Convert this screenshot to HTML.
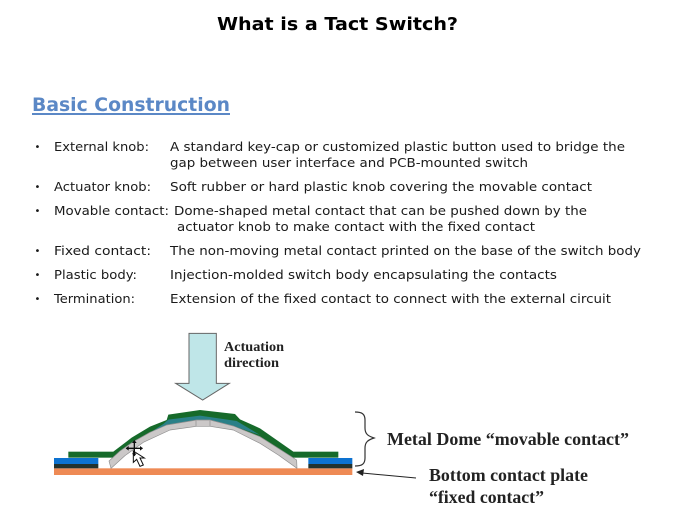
<!DOCTYPE html>
<html>
<head>
<meta charset="utf-8">
<style>
html,body{margin:0;padding:0;background:#fff;width:674px;height:506px;overflow:hidden}
svg{display:block}
.t{font-family:"DejaVu Sans",sans-serif;font-size:12.3px;fill:#1a1a1a}
.b{font-family:"DejaVu Sans",sans-serif;font-size:10px;fill:#1a1a1a}
.s{font-family:"Liberation Serif",serif;font-weight:bold;fill:#222}
</style>
</head>
<body>
<svg width="674" height="506" viewBox="0 0 674 506" xmlns="http://www.w3.org/2000/svg">
<defs><filter id="soft" x="-5%" y="-5%" width="110%" height="110%"><feGaussianBlur stdDeviation="0.35"/></filter></defs>
<text x="217" y="30" font-family="'DejaVu Sans',sans-serif" font-weight="bold" font-size="18" fill="#000" textLength="241" lengthAdjust="spacingAndGlyphs">What is a Tact Switch?</text>
<text x="32" y="111" font-family="'DejaVu Sans',sans-serif" font-weight="bold" font-size="19" fill="#5b88c6" textLength="198" lengthAdjust="spacingAndGlyphs">Basic Construction</text>
<rect x="32" y="113" width="198" height="2" fill="#5b88c6"/>

<g>
<text class="b" x="34.5" y="150">•</text><text class="b" x="34.5" y="190">•</text><text class="b" x="34.5" y="214">•</text><text class="b" x="34.5" y="254">•</text><text class="b" x="34.5" y="278">•</text><text class="b" x="34.5" y="302">•</text>
<text class="t" x="54" y="151" textLength="95" lengthAdjust="spacingAndGlyphs">External knob:</text>
<text class="t" x="170" y="151" textLength="455" lengthAdjust="spacingAndGlyphs">A standard key-cap or customized plastic button used to bridge the</text>
<text class="t" x="170" y="167" textLength="358" lengthAdjust="spacingAndGlyphs">gap between user interface and PCB-mounted switch</text>
<text class="t" x="54" y="191" textLength="97" lengthAdjust="spacingAndGlyphs">Actuator knob:</text>
<text class="t" x="170" y="191" textLength="422" lengthAdjust="spacingAndGlyphs">Soft rubber or hard plastic knob covering the movable contact</text>
<text class="t" x="54" y="215" textLength="115" lengthAdjust="spacingAndGlyphs">Movable contact:</text>
<text class="t" x="174" y="215" textLength="413" lengthAdjust="spacingAndGlyphs">Dome-shaped metal contact that can be pushed down by the</text>
<text class="t" x="177" y="231" textLength="358" lengthAdjust="spacingAndGlyphs">actuator knob to make contact with the fixed contact</text>
<text class="t" x="54" y="255" textLength="97" lengthAdjust="spacingAndGlyphs">Fixed contact:</text>
<text class="t" x="170" y="255" textLength="471" lengthAdjust="spacingAndGlyphs">The non-moving metal contact printed on the base of the switch body</text>
<text class="t" x="54" y="279" textLength="83" lengthAdjust="spacingAndGlyphs">Plastic body:</text>
<text class="t" x="170" y="279" textLength="387" lengthAdjust="spacingAndGlyphs">Injection-molded switch body encapsulating the contacts</text>
<text class="t" x="54" y="303" textLength="81" lengthAdjust="spacingAndGlyphs">Termination:</text>
<text class="t" x="170" y="303" textLength="441" lengthAdjust="spacingAndGlyphs">Extension of the fixed contact to connect with the external circuit</text>
</g>

<!-- diagram, coordinates in 3x space -->
<g transform="translate(40 325) scale(0.33333)" filter="url(#soft)">
  <path d="M447 25H529V175H568L488 225L407 175H447Z" fill="#bfe6e8" stroke="#666" stroke-width="3"/>
  <rect x="42" y="430" width="895" height="20" fill="#ee8a55"/>
  <rect x="42" y="399" width="133" height="18" fill="#0f72d0"/>
  <rect x="42" y="417" width="133" height="13" fill="#20332f"/>
  <rect x="805" y="399" width="132" height="18" fill="#0f72d0"/>
  <rect x="805" y="417" width="132" height="13" fill="#20332f"/>
  <rect x="85" y="380" width="140" height="18" fill="#156b2b"/>
  <rect x="755" y="380" width="140" height="18" fill="#156b2b"/>
  <path d="M220 380L275 338L330 305L380 285L385 269L480 255L585 267L600 283L660 310L710 345L760 380L755 398L715 370L660 335L580 303L510 285H470L380 300L330 322L280 350L225 398Z" fill="#156b2b"/>
  <path d="M385 284L480 272L590 288L610 300L660 330L580 303L510 286H470L380 301L330 323L370 297Z" fill="#2b8088"/>
  <path d="M207 408L240 378L280 350L330 322L380 300L470 285H510L580 303L660 335L715 370L770 405L771 430L715 390L660 355L580 315L510 304H470L390 315L310 352L255 392L213 430Z" fill="#cbc8c8" stroke="#8f8f8f" stroke-width="2" stroke-linejoin="round"/>
  <path d="M468 287V304M510 287V304" stroke="#8f8f8f" stroke-width="2" fill="none"/>
  <path d="M280 378L280 412L290 403L300 424L310 420L300 399L313 399Z" fill="#fff" stroke="#111" stroke-width="3"/>
  <path d="M283 347V392M259 370H307" stroke="#111" stroke-width="4" fill="none"/>
  <path d="M283 345l-7 9h14zM283 394l-7-9h14zM257 370l9-7v14zM309 370l-9-7v14z" fill="#111"/>
</g>

<path d="M355 412C362 412 365 414 365 420V428C365 434 368 436 374 438C368 440 365 442 365 448V458C365 464 362 466 355 466" fill="none" stroke="#333" stroke-width="1.2"/>
<line x1="416" y1="478" x2="362" y2="473" stroke="#222" stroke-width="1"/>
<path d="M356 472L364 469L363 476Z" fill="#222"/>

<text class="s" x="224" y="351" font-size="14" textLength="60" lengthAdjust="spacingAndGlyphs">Actuation</text>
<text class="s" x="224" y="367" font-size="14" textLength="55" lengthAdjust="spacingAndGlyphs">direction</text>
<text class="s" x="387" y="445" font-size="18" textLength="242" lengthAdjust="spacingAndGlyphs">Metal Dome “movable contact”</text>
<text class="s" x="429" y="481" font-size="18" textLength="159" lengthAdjust="spacingAndGlyphs">Bottom contact plate</text>
<text class="s" x="429" y="503" font-size="18" textLength="115" lengthAdjust="spacingAndGlyphs">“fixed contact”</text>
</svg>
</body>
</html>
